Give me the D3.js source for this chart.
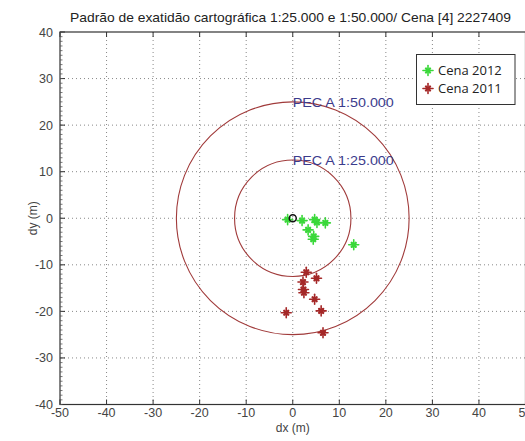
<!DOCTYPE html>
<html><head><meta charset="utf-8">
<script src="https://cdn.jsdelivr.net/npm/d3@7"></script>
<style>body{margin:0;background:#fff;}svg{display:block;font-family:"Liberation Sans",Arial,sans-serif;}</style>
</head><body>
<script>
const title = "Padrão de exatidão cartográfica 1:25.000 e 1:50.000/ Cena [4] 2227409";
const xTicks = [-50,-40,-30,-20,-10,0,10,20,30,40,50];
const yTicks = [-40,-30,-20,-10,0,10,20,30,40];
const pecRadii = [25, 12.5];
const pecLabels = ["PEC A 1:50.000", "PEC A 1:25.000"];
const seriesNames = ["Cena 2012", "Cena 2011"];
const green2012 = [[-1.1,-0.3],[2.0,-0.5],[4.7,-0.3],[5.2,-0.9],[7.0,-1.0],[3.3,-2.5],[4.5,-3.9],[4.4,-4.5],[13.1,-5.7]];
const red2011 = [[2.9,-11.6],[5.1,-12.9],[2.2,-13.7],[2.3,-15.3],[2.4,-16.0],[4.7,-17.4],[6.1,-19.9],[-1.4,-20.3],[6.5,-24.6]];
const origin = [[0,0]];

const W=525,H=441;
const svg=d3.select("body").append("svg").attr("width",W).attr("height",H);
const x=d3.scaleLinear().domain([-50,50]).range([60,525.5]);
const y=d3.scaleLinear().domain([-40,40]).range([404.5,32]);

// grid
const g=svg.append("g");
g.selectAll(".gx").data(xTicks.slice(1,-1)).join("line")
 .attr("x1",d=>x(d)).attr("x2",d=>x(d)).attr("y1",y(40)).attr("y2",y(-40))
 .attr("stroke","#888").attr("stroke-width",1).attr("stroke-dasharray","1,3");
g.selectAll(".gy").data(yTicks.slice(1,-1)).join("line")
 .attr("y1",d=>y(d)).attr("y2",d=>y(d)).attr("x1",x(-50)).attr("x2",x(50))
 .attr("stroke","#888").attr("stroke-width",1).attr("stroke-dasharray","1,3");

// axes box
svg.append("rect").attr("x",x(-50)).attr("y",y(40)).attr("width",x(50)-x(-50)).attr("height",y(-40)-y(40))
 .attr("fill","none").attr("stroke","#333").attr("stroke-width",1.2);

// ticks
svg.selectAll(".tx").data(xTicks).join("line")
 .attr("x1",d=>x(d)).attr("x2",d=>x(d)).attr("y1",y(-40)).attr("y2",y(-40)-5).attr("stroke","#333");
svg.selectAll(".tx2").data(xTicks).join("line")
 .attr("x1",d=>x(d)).attr("x2",d=>x(d)).attr("y1",y(40)).attr("y2",y(40)+5).attr("stroke","#333");
svg.selectAll(".ty").data(yTicks).join("line")
 .attr("y1",d=>y(d)).attr("y2",d=>y(d)).attr("x1",x(-50)).attr("x2",x(-50)+5).attr("stroke","#333");
svg.selectAll(".tym").data(d3.range(-40,41,1)).join("line")
 .attr("y1",d=>y(d)).attr("y2",d=>y(d)).attr("x1",x(-50)).attr("x2",x(-50)+2.5).attr("stroke","#555").attr("stroke-width",0.8);

// tick labels
svg.selectAll(".lx").data(xTicks).join("text")
 .attr("x",d=>x(d)).attr("y",417).attr("text-anchor","middle").attr("font-size",12.5).attr("fill","#444").text(d=>d);
svg.selectAll(".ly").data(yTicks).join("text")
 .attr("x",53).attr("y",d=>y(d)+4.5).attr("text-anchor","end").attr("font-size",12.5).attr("fill","#444").text(d=>d);

svg.append("text").attr("x",x(0)).attr("y",432).attr("text-anchor","middle").attr("font-size",12).attr("fill","#444").text("dx (m)");
svg.append("text").attr("transform",`translate(37,${y(0)}) rotate(-90)`).attr("text-anchor","middle").attr("font-size",12).attr("fill","#444").text("dy (m)");
svg.append("text").attr("x",70).attr("y",22).attr("font-size",13.5).attr("fill","#222")
 .attr("textLength",441).attr("lengthAdjust","spacingAndGlyphs").text(title);

// circles
const k=x(1)-x(0);
svg.selectAll(".pc").data(pecRadii).join("circle")
 .attr("cx",x(0)).attr("cy",y(0)).attr("r",d=>d*k)
 .attr("fill","none").attr("stroke","#a03a3a").attr("stroke-width",1.1);
svg.selectAll(".pl").data(pecRadii).join("text")
 .attr("x",x(0)).attr("y",d=>y(d)+5).attr("font-size",13.5).attr("fill","#3b3b8c")
 .attr("textLength",101).attr("lengthAdjust","spacingAndGlyphs")
 .text((d,i)=>pecLabels[i]);

// star marker
function star(sel,data,color){
  const gg=sel.append("g").attr("stroke",color).attr("stroke-linecap","round");
  data.forEach(p=>{
    const cx=x(p[0]),cy=y(p[1]);
    gg.append("line").attr("x1",cx-5).attr("x2",cx+5).attr("y1",cy).attr("y2",cy).attr("stroke-width",1.6);
    gg.append("line").attr("x1",cx).attr("x2",cx).attr("y1",cy-5).attr("y2",cy+5).attr("stroke-width",1.6);
    gg.append("line").attr("x1",cx-2).attr("x2",cx+2).attr("y1",cy-2).attr("y2",cy+2).attr("stroke-width",2.4);
    gg.append("line").attr("x1",cx-2).attr("x2",cx+2).attr("y1",cy+2).attr("y2",cy-2).attr("stroke-width",2.4);
  });
}
star(svg,green2012,"#3ad83a");
star(svg,red2011,"#a52828");
svg.selectAll(".o").data(origin).join("circle").attr("cx",d=>x(d[0])).attr("cy",d=>y(d[1])).attr("r",3.5)
 .attr("fill","none").attr("stroke","#111").attr("stroke-width",1.5);

// legend
const lg=svg.append("g");
lg.append("rect").attr("x",416.5).attr("y",54.5).attr("width",98.5).attr("height",50).attr("fill","#fff").attr("stroke","#333").attr("stroke-width",1);
const legColors=["#3ad83a","#a52828"];
seriesNames.forEach((n,i)=>{
  const cy=70.5+i*18;
  star(lg,[[x.invert(428),y.invert(cy)]],legColors[i]);
  lg.append("text").attr("x",438).attr("y",cy+4.5).attr("font-size",13).attr("fill","#222")
   .attr("font-family","'Open Sans', sans-serif").text(n);
});
</script>
</body></html>
